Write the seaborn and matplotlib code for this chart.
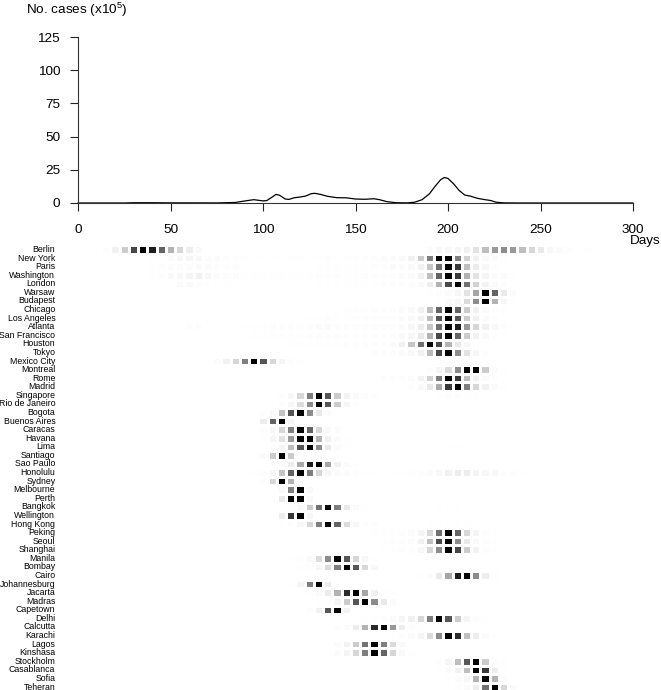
import numpy as np
import pandas as pd
import matplotlib
matplotlib.use("Agg")
import matplotlib.pyplot as plt
from matplotlib.colors import PowerNorm
import seaborn as sns

sns.set_theme(style="white")
plt.rcParams["font.family"] = ["Liberation Sans", "DejaVu Sans"]
plt.rcParams["mathtext.fontset"] = "custom"
plt.rcParams["mathtext.rm"] = "Liberation Sans"
plt.rcParams["mathtext.default"] = "regular"

# Epidemic curve
curve_days = [0, 25, 30, 40, 50, 60, 75, 85, 90, 95, 100, 102, 105, 107, 109, 112, 114, 117, 120, 123, 126, 128,
              131, 135, 140, 145, 150, 155, 160, 163, 167, 172, 178, 182, 186, 190, 193, 196, 198, 200, 203,
              206, 209, 212, 216, 220, 223, 226, 230, 240, 300]
curve_cases = [0, 0, .2, .2, .1, .1, .05, .4, 1.5, 2.5, 1.6, 1.8, 4.5, 6.5, 5.8, 3, 2.7, 4, 4.5, 5.2, 7, 7.3,
               6.5, 5, 4, 3.9, 3, 2.8, 3.2, 2.5, 1, .2, .1, .6, 2.5, 7, 12.5, 17.5, 19.2, 18.5, 14.5,
               9.5, 6, 5.2, 3.5, 2.5, 1.9, .6, .1, 0, 0]
x_ticks = [0, 50, 100, 150, 200, 250, 300]
y_ticks = [0, 25, 50, 75, 100, 125]

# City runs: (first day of the run, relative intensity at 5-day steps)
berlin = [(15, [.02, .08, .25, .75, 1, .9, .65, .35, .2, .1, .04]),
          (190, [.03, .05, .05, .06, .08, .15, .3, .45, .5, .45, .3, .2, .12, .05, .03, .02, .01, .01])]
new_york = [(40, [.01, .01, .03, .05, .06, .05, .03, .03, .02, .01, .01, .01, .01, .01, .01, .01, .01, .01, .01, .02,
                  .01, .01, .02, .02, .02, .03, .03, .04, .08, .25, .55, 1, 1, .55, .22, .08, .04, .03, .01])]
paris = [(40, [.01, .015, .03, .03, .03, .03, .03, .02, .02, .015]),
         (130, [.01, .01, .01, .01, .01, .01, .015, .02, .03, .03, .04, .08, .27, .6, 1, .8, .3, .1, .05, .02])]
washington = [(40, [.01, .02, .04, .05, .06, .08, .05, .03, .02, .03, .01, .01, .01, .01, .01, .01, .01, .01, .02, .02,
                    .02, .01, .01, .02, .02, .02, .02, .03, .03, .08, .3, .65, 1, .8, .35, .15, .06, .03, .03, .01])]
london = [(55, [.03, .04, .02, .01, .01, .01]),
          (130, [.01, .01, .01, .01, .01, .01, .01, .015, .02, .02, .02, .04, .1, .35, .75, 1, .6, .22, .07, .03, .015])]
warsaw = [(190, [.01, .02, .03, .05, .15, .4, 1, .65, .12, .03])]
budapest = [(195, [.01, .03, .05, .18, .5, 1, .35, .05, .01])]
chicago = [(140, [.01, .01, .01, .01, .02, .02, .02, .03, .04, .08, .3, .65, 1, .65, .25, .08, .03, .02, .01])]
los_angeles = [(125, [.01, .01, .02, .01, .01, .015, .02, .02, .02, .02, .03, .04, .08, .3, .7, 1, .7, .25, .08, .03, .02])]
atlanta = [(60, [.02, .02]),
           (90, [.01, .01, .01, .015, .02, .02, .02, .02, .03, .03, .02, .015, .02, .02, .02, .02, .02, .03, .05, .1, .27,
                 .6, 1, .9, .45, .2, .08, .04, .02, .01])]
san_francisco = [(95, [.01, .01, .01, .01, .01, .01, .015, .02, .02, .02, .02, .02, .01, .02, .02, .02, .04, .05, .12,
                       .35, .75, 1, .65, .25, .08, .04, .02, .01])]
houston = [(115, [.01, .01, .01, .01, .01, .01, .015, .015, .02, .02, .02, .03, .08, .27, .6, 1, .75, .35, .12, .05, .02])]
tokyo = [(160, [.015, .02, .02, .03, .04, .08, .32, .75, 1, .5, .15, .05, .02])]
mexico_city = [(70, [.01, .03, .08, .2, .55, 1, .7, .2, .06, .02, .01])]
montreal = [(190, [.015, .06, .18, .5, 1, 1, .25, .03, .01])]
rome = [(165, [.015, .02, .02, .03, .07, .22, .55, 1, .8, .3, .08, .03, .02])]
madrid = [(180, [.02, .04, .12, .38, .8, 1, .55, .2, .08, .03, .01])]
singapore = [(110, [.02, .05, .2, .55, 1, .7, .25, .07, .04, .02, .015]),
             (195, [.01, .02, .015, .01, .01])]
rio_de_janeiro = [(110, [.02, .05, .18, .5, 1, .7, .25, .06, .02])]
bogota = [(100, [.02, .04, .28, .7, 1, .5, .12, .03])]
buenos_aires = [(100, [.1, .65, 1, .06])]
caracas = [(100, [.02, .05, .2, .55, 1, .65, .2, .04, .03])]
havana = [(100, [.01, .05, .15, .45, 1, 1, .35, .08, .03, .01])]
lima = [(105, [.02, .06, .3, .7, 1, .5, .12, .03, .01]),
        (200, [.01, .01])]
santiago = [(100, [.03, .25, 1, .25])]
sao_paulo = [(105, [.02, .04, .1, .38, .9, 1, .4, .08, .03, .01])]
honolulu = [(95, [.01, .02, .06, .28, .65, 1, .55, .2, .05, .03, .025, .02, .01, .01, .01, .01, .01, .01, .02, .03, .05,
                  .08, .1, .1, .07, .05, .04, .02, .02, .01])]
sydney = [(100, [.02, .2, 1, .35, .02])]
melbourne = [(110, [.04, .55, 1, .04, .01])]
perth = [(105, [.01, .12, 1, 1, .04])]
bangkok = [(115, [.01, .04, .25, .6, 1, .55, .12, .03, .01]),
           (195, [.01, .01, .01])]
wellington = [(110, [.1, .8, 1, .05])]
hong_kong = [(110, [.01, .02, .05, .2, .55, 1, .65, .18, .05, .02, .015]),
             (190, [.01, .01, .01, .01, .01])]
peking = [(160, [.01, .01, .01, .015, .03, .06, .2, .6, 1, .65, .2, .06, .02, .01])]
seoul = [(160, [.01, .01, .015, .02, .03, .08, .3, .75, 1, .5, .12, .04, .02, .01])]
shanghai = [(165, [.01, .01, .015, .02, .05, .2, .5, 1, .75, .25, .07, .02, .01])]
manila = [(115, [.01, .02, .04, .18, .5, 1, .7, .2, .05, .01])]
bombay = [(120, [.01, .02, .05, .18, .55, 1, .7, .2, .05, .01])]
cairo = [(185, [.01, .03, .12, .4, .9, 1, .5, .1, .02])]
johannesburg = [(115, [.01, .06, .55, 1, .1, .01])]
jacarta = [(125, [.01, .03, .1, .35, .85, 1, .4, .08, .02, .01])]
madras = [(130, [.01, .01, .06, .25, .7, 1, .5, .12, .03])]
capetown = [(125, [.02, .08, .7, 1, .07])]
delhi = [(150, [.005, .01, .01, .02, .03, .06, .08, .2, .55, 1, .7, .25, .06, .02, .01])]
calcutta = [(140, [.02, .03, .1, .35, .85, 1, .45, .1, .02, .01])]
karachi = [(170, [.01, .015, .03, .06, .18, .5, 1, .85, .3, .1, .03, .01])]
lagos = [(140, [.03, .07, .25, .6, 1, .55, .18, .04])]
kinshasa = [(140, [.03, .06, .2, .55, 1, .65, .2, .04, .01])]
stockholm = [(190, [.01, .02, .06, .3, .7, 1, .25, .02, .01])]
casablanca = [(195, [.01, .03, .08, .3, 1, .8, .1, .01])]
sofia = [(200, [.01, .03, .05, .35, 1, .35, .03])]
teheran = [(205, [.02, .03, .1, .6, 1, .2, .03])]

city_names = ["Berlin", "New York", "Paris", "Washington", "London", "Warsaw", "Budapest", "Chicago", "Los Angeles",
              "Atlanta", "San Francisco", "Houston", "Tokyo", "Mexico City", "Montreal", "Rome", "Madrid", "Singapore",
              "Rio de Janeiro", "Bogota", "Buenos Aires", "Caracas", "Havana", "Lima", "Santiago", "Sao Paulo",
              "Honolulu", "Sydney", "Melbourne", "Perth", "Bangkok", "Wellington", "Hong Kong", "Peking", "Seoul",
              "Shanghai", "Manila", "Bombay", "Cairo", "Johannesburg", "Jacarta", "Madras", "Capetown", "Delhi",
              "Calcutta", "Karachi", "Lagos", "Kinshasa", "Stockholm", "Casablanca", "Sofia", "Teheran"]
city_runs = [berlin, new_york, paris, washington, london, warsaw, budapest, chicago, los_angeles, atlanta,
             san_francisco, houston, tokyo, mexico_city, montreal, rome, madrid, singapore, rio_de_janeiro, bogota,
             buenos_aires, caracas, havana, lima, santiago, sao_paulo, honolulu, sydney, melbourne, perth, bangkok,
             wellington, hong_kong, peking, seoul, shanghai, manila, bombay, cairo, johannesburg, jacarta, madras,
             capetown, delhi, calcutta, karachi, lagos, kinshasa, stockholm, casablanca, sofia, teheran]

W, H = 661, 690
fig = plt.figure(figsize=(W / 100, H / 100), dpi=100)


def axes_px(left, top, right, bottom):
    return fig.add_axes([left / W, 1 - bottom / H, (right - left) / W, (bottom - top) / H])


# Top curve
ax = axes_px(78, 37, 633, 203)
curve = pd.DataFrame({"day": curve_days, "cases": curve_cases})
sns.lineplot(data=curve, x="day", y="cases", color="black", linewidth=0.9, ax=ax, clip_on=False)
ax.set_xlim(0, 300)
ax.set_ylim(0, 125)
ax.set_xticks(x_ticks)
ax.set_yticks(y_ticks)
ax.set_xlabel("")
ax.set_ylabel("")
ax.tick_params(axis="both", length=5.8, width=0.8, color="#222222", labelsize=9.7, labelcolor="black",
               bottom=True, left=True)
ax.tick_params(axis="x", pad=9.5)
ax.tick_params(axis="y", pad=7)
for side in ["top", "right"]:
    ax.spines[side].set_visible(False)
for side in ["left", "bottom"]:
    ax.spines[side].set_color("#333333")
    ax.spines[side].set_linewidth(0.8)
ax.patch.set_alpha(0)
fig.text(26 / W, 1 - 9.5 / H, "No. cases (x10$^5$)", fontsize=9.7, color="black", ha="left", va="center")
fig.text(661 / W, 1 - 241 / H, "Days", fontsize=9.7, color="black", ha="right", va="center")

# Heat map of city timings
day_columns = list(range(0, 305, 5))
records = [(name, start + 5 * k, v)
           for name, runs in zip(city_names, city_runs)
           for start, values in runs
           for k, v in enumerate(values)]
long_table = pd.DataFrame(records, columns=["city", "day", "level"])
table = (long_table.pivot_table(index="city", columns="day", values="level", aggfunc="max")
         .reindex(index=city_names, columns=day_columns).fillna(0))

cell_w = 555 / 60
cell_h = (687 - 249.5) / 51
hm = axes_px(78 - cell_w / 2, 249.5 - cell_h / 2, 633 + cell_w / 2, 687 + cell_h / 2)
sns.heatmap(table, ax=hm, cmap="gray_r", norm=PowerNorm(gamma=1.15, vmin=0, vmax=1), cbar=False, linewidths=1.9,
            linecolor="white", xticklabels=False, yticklabels=True)
hm.set_xlabel("")
hm.set_ylabel("")
hm.tick_params(axis="y", length=0, pad=13, labelsize=6.3, labelrotation=0, labelcolor="black")

fig.savefig("out.png", dpi=100)
